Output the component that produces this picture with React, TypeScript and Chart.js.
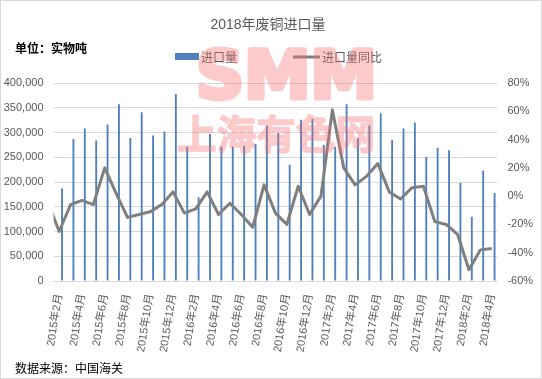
import { useEffect, useRef } from "react";
import { Chart, registerables } from "chart.js";

Chart.register(...registerables);

const titleText = "2018年废铜进口量";
const unitText = "单位：实物吨";
const sourceText = "数据来源：中国海关";
const barLabel = "进口量";
const lineLabel = "进口量同比";
const watermarkTop = "SMM";
const watermarkBottom = "上海有色网";

const months = [
  "2015年2月", "2015年3月", "2015年4月", "2015年5月", "2015年6月", "2015年7月", "2015年8月",
  "2015年9月", "2015年10月", "2015年11月", "2015年12月", "2016年1月", "2016年2月", "2016年3月",
  "2016年4月", "2016年5月", "2016年6月", "2016年7月", "2016年8月", "2016年9月", "2016年10月",
  "2016年11月", "2016年12月", "2017年1月", "2017年2月", "2017年3月", "2017年4月", "2017年5月",
  "2017年6月", "2017年7月", "2017年8月", "2017年9月", "2017年10月", "2017年11月", "2017年12月",
  "2018年1月", "2018年2月", "2018年3月", "2018年4月",
];

const importVolume = [
  187000, 287000, 308000, 284000, 316000, 357000, 289000, 341000, 294000, 302000,
  378000, 271000, 169000, 297000, 271000, 271000, 273000, 277000, 314000, 299000,
  235000, 326000, 328000, 275000, 271000, 357000, 289000, 314000, 339000, 285000,
  308000, 320000, 251000, 269000, 264000, 198000, 130000, 223000, 178000,
];

// year-on-year %, first value is 2015年1月 (line enters from the left edge)
const yoyMonths = ["2015年1月", ...months];
const yoyPercent = [
  -4,
  -25, -6, -3, -6, 20, 2, -15, -13, -11, -6,
  3, -12, -9, 3, -13, -5, -13, -22, 8, -12,
  -20, 7, -13, 0, 61, 20, 8, 14, 23, 3,
  -2, 6, 7, -18, -20, -27, -52, -38, -37,
];

const leftMin = 0;
const leftMax = 400000;
const leftStep = 50000;
const rightMin = -60;
const rightMax = 80;
const rightStep = 20;

const FONT = '"Liberation Sans", "Noto Sans CJK SC", sans-serif';
const CJK = '"Noto Sans CJK SC", "Liberation Sans", sans-serif';
const BAR_COLOR = "#4f81bd";
const LINE_COLOR = "#7f7f7f";
const TEXT_COLOR = "#595959";

export default function App() {
  const ref = useRef<HTMLCanvasElement>(null);

  useEffect(() => {
    document.body.style.margin = "0";
    const canvas = ref.current;
    if (!canvas) return;

    const overlay = {
      id: "overlay",
      afterDraw(chart: any) {
        const ctx = chart.ctx as CanvasRenderingContext2D;
        ctx.save();
        // outer border
        ctx.strokeStyle = "#d9d9d9";
        ctx.lineWidth = 1;
        ctx.strokeRect(0.5, 0.5, chart.width - 1, chart.height - 1);

        // title
        ctx.fillStyle = TEXT_COLOR;
        ctx.font = `14px ${FONT}`;
        ctx.textAlign = "center";
        ctx.textBaseline = "middle";
        ctx.fillText(titleText, 268, 25);

        // unit
        ctx.fillStyle = "#000";
        ctx.font = `bold 12px ${CJK}`;
        ctx.textAlign = "left";
        ctx.fillText(unitText, 15, 48);

        // legend
        ctx.fillStyle = BAR_COLOR;
        ctx.fillRect(175, 53, 24, 7);
        ctx.fillStyle = TEXT_COLOR;
        ctx.font = `12px ${CJK}`;
        ctx.fillText(barLabel, 201, 57);
        ctx.strokeStyle = LINE_COLOR;
        ctx.lineWidth = 3;
        ctx.beginPath();
        ctx.moveTo(293, 57);
        ctx.lineTo(320, 57);
        ctx.stroke();
        ctx.fillText(lineLabel, 322, 57);

        // source
        ctx.fillStyle = "#000";
        ctx.font = `12px ${CJK}`;
        ctx.fillText(sourceText, 15, 368);

        // watermark: drawn opaque offscreen, then blended once
        const off = document.createElement("canvas");
        off.width = chart.width;
        off.height = chart.height;
        const o = off.getContext("2d") as CanvasRenderingContext2D;
        o.fillStyle = "rgb(245,110,110)";
        o.strokeStyle = "rgb(245,110,110)";
        o.lineJoin = "round";
        o.textAlign = "left";
        o.textBaseline = "alphabetic";
        o.font = `bold 66px "DejaVu Sans", sans-serif`;
        let w = o.measureText(watermarkTop).width;
        o.save();
        o.translate(196, 98);
        o.scale(181 / w, 1);
        o.lineWidth = 5;
        o.fillText(watermarkTop, 0, 0);
        o.strokeText(watermarkTop, 0, 0);
        o.restore();
        o.font = `bold 40px ${CJK}`;
        o.textBaseline = "middle";
        w = o.measureText(watermarkBottom).width;
        o.save();
        o.translate(177, 134);
        o.scale(198 / w, 1);
        o.lineWidth = 1.5;
        o.fillText(watermarkBottom, 0, 0);
        o.strokeText(watermarkBottom, 0, 0);
        o.restore();
        ctx.globalAlpha = 0.36;
        ctx.drawImage(off, 0, 0);
        ctx.restore();
      },
    };

    const chart = new Chart(canvas, {
      type: "bar",
      data: {
        labels: months,
        datasets: [
          {
            type: "line",
            label: lineLabel,
            data: yoyPercent.map((v, i) => ({ x: i - 1, y: v, m: yoyMonths[i] })) as any,
            xAxisID: "xl",
            yAxisID: "yr",
            borderColor: LINE_COLOR,
            backgroundColor: LINE_COLOR,
            borderWidth: 3,
            pointRadius: 0,
            tension: 0,
            borderJoinStyle: "round",
            order: 0,
          } as any,
          {
            type: "bar",
            label: barLabel,
            data: importVolume,
            xAxisID: "x",
            yAxisID: "y",
            backgroundColor: BAR_COLOR,
            categoryPercentage: 1,
            barPercentage: 0.33,
            order: 1,
          },
        ],
      },
      options: {
        responsive: false,
        animation: false,
        layout: { padding: { top: 83, left: 0, right: 0, bottom: 0 } },
        plugins: {
          legend: { display: false },
          title: { display: false },
          tooltip: { enabled: false },
        },
        scales: {
          x: {
            type: "category",
            position: "bottom",
            offset: true,
            grid: { display: false },
            border: { color: "#d9d9d9", width: 1 },
            ticks: {
              autoSkip: false,
              minRotation: 81,
              maxRotation: 81,
              padding: 4,
              color: TEXT_COLOR,
              font: { size: 11, family: FONT },
              callback: function (this: any, v: any, i: number) {
                return i % 2 === 0 ? this.getLabelForValue(v) : "";
              },
            },
            afterFit(s: any) {
              s.height = 98;
            },
          },
          xl: {
            type: "linear",
            position: "bottom",
            display: false,
            offset: false,
            grid: { offset: false },
            min: -0.5,
            max: months.length - 0.5,
          },
          y: {
            position: "left",
            min: leftMin,
            max: leftMax,
            grid: { color: "#d9d9d9", drawTicks: false },
            border: { display: false },
            ticks: {
              stepSize: leftStep,
              padding: 10,
              color: TEXT_COLOR,
              font: { size: 11, family: FONT },
              callback: (v: any) => Number(v).toLocaleString("en-US"),
            },
            afterFit(s: any) {
              s.width = 53.5;
            },
          },
          yr: {
            position: "right",
            min: rightMin,
            max: rightMax,
            grid: { display: false, drawTicks: false },
            border: { display: false },
            ticks: {
              stepSize: rightStep,
              padding: 10,
              color: TEXT_COLOR,
              font: { size: 11, family: FONT },
              callback: (v: any) => `${v}%`,
            },
            afterFit(s: any) {
              s.width = 44.6;
            },
          },
        },
      } as any,
      plugins: [overlay],
    });

    return () => chart.destroy();
  }, []);

  return <canvas ref={ref} width={542} height={379} style={{ display: "block" }} />;
}
